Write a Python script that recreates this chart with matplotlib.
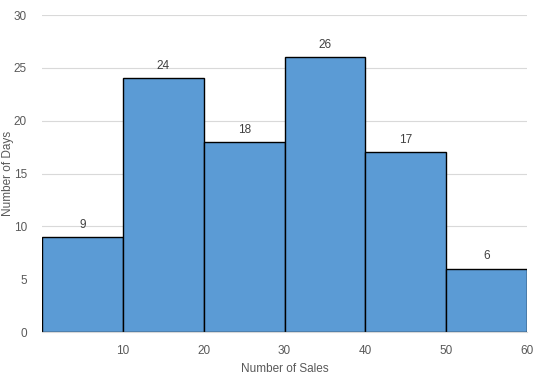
import matplotlib.pyplot as plt
import numpy as np

plt.rcParams['font.family'] = ['Liberation Sans', 'DejaVu Sans']

# histogram bins and counts
bin_edges = [0, 10, 20, 30, 40, 50, 60]
counts = [9, 24, 18, 26, 17, 6]
x_ticks = [10, 20, 30, 40, 50, 60]
y_ticks = [0, 5, 10, 15, 20, 25, 30]

fig = plt.figure(figsize=(5.4, 3.77), dpi=100)
ax = fig.add_axes([0.078, 0.119, 0.898, 0.841])

lefts = np.array(bin_edges[:-1])
widths = np.diff(bin_edges)
bars = ax.bar(lefts, counts, width=widths, align='edge', color='#5B9BD5',
              edgecolor='black', linewidth=1.0, zorder=3)

for b, c in zip(bars, counts):
    ax.text(b.get_x() + b.get_width() / 2, c + 0.6, str(c), ha='center',
            va='bottom', fontsize=8.5, color='#404040')

ax.set_xlim(0, 60)
ax.set_ylim(0, 30)
ax.set_xticks(x_ticks)
ax.set_yticks(y_ticks)
ax.grid(axis='y', color='#D9D9D9', linewidth=0.8, zorder=0)
for s in ['top', 'right', 'left']:
    ax.spines[s].set_visible(False)
ax.spines['bottom'].set_color('#D9D9D9')
ax.spines['bottom'].set_zorder(4)
ax.tick_params(axis='both', length=0, labelsize=8.5, colors='#595959')
ax.tick_params(axis='x', pad=9)
ax.tick_params(axis='y', pad=11)
ax.set_xlabel('Number of Sales', fontsize=8.5, color='#595959')
ax.set_ylabel('Number of Days', fontsize=8.5, color='#595959')
# place axis titles like the reference
ax.xaxis.set_label_coords(0.5, -0.097)
ax.yaxis.set_label_coords(-0.057, 0.5)

plt.savefig('out.png', dpi=100)
